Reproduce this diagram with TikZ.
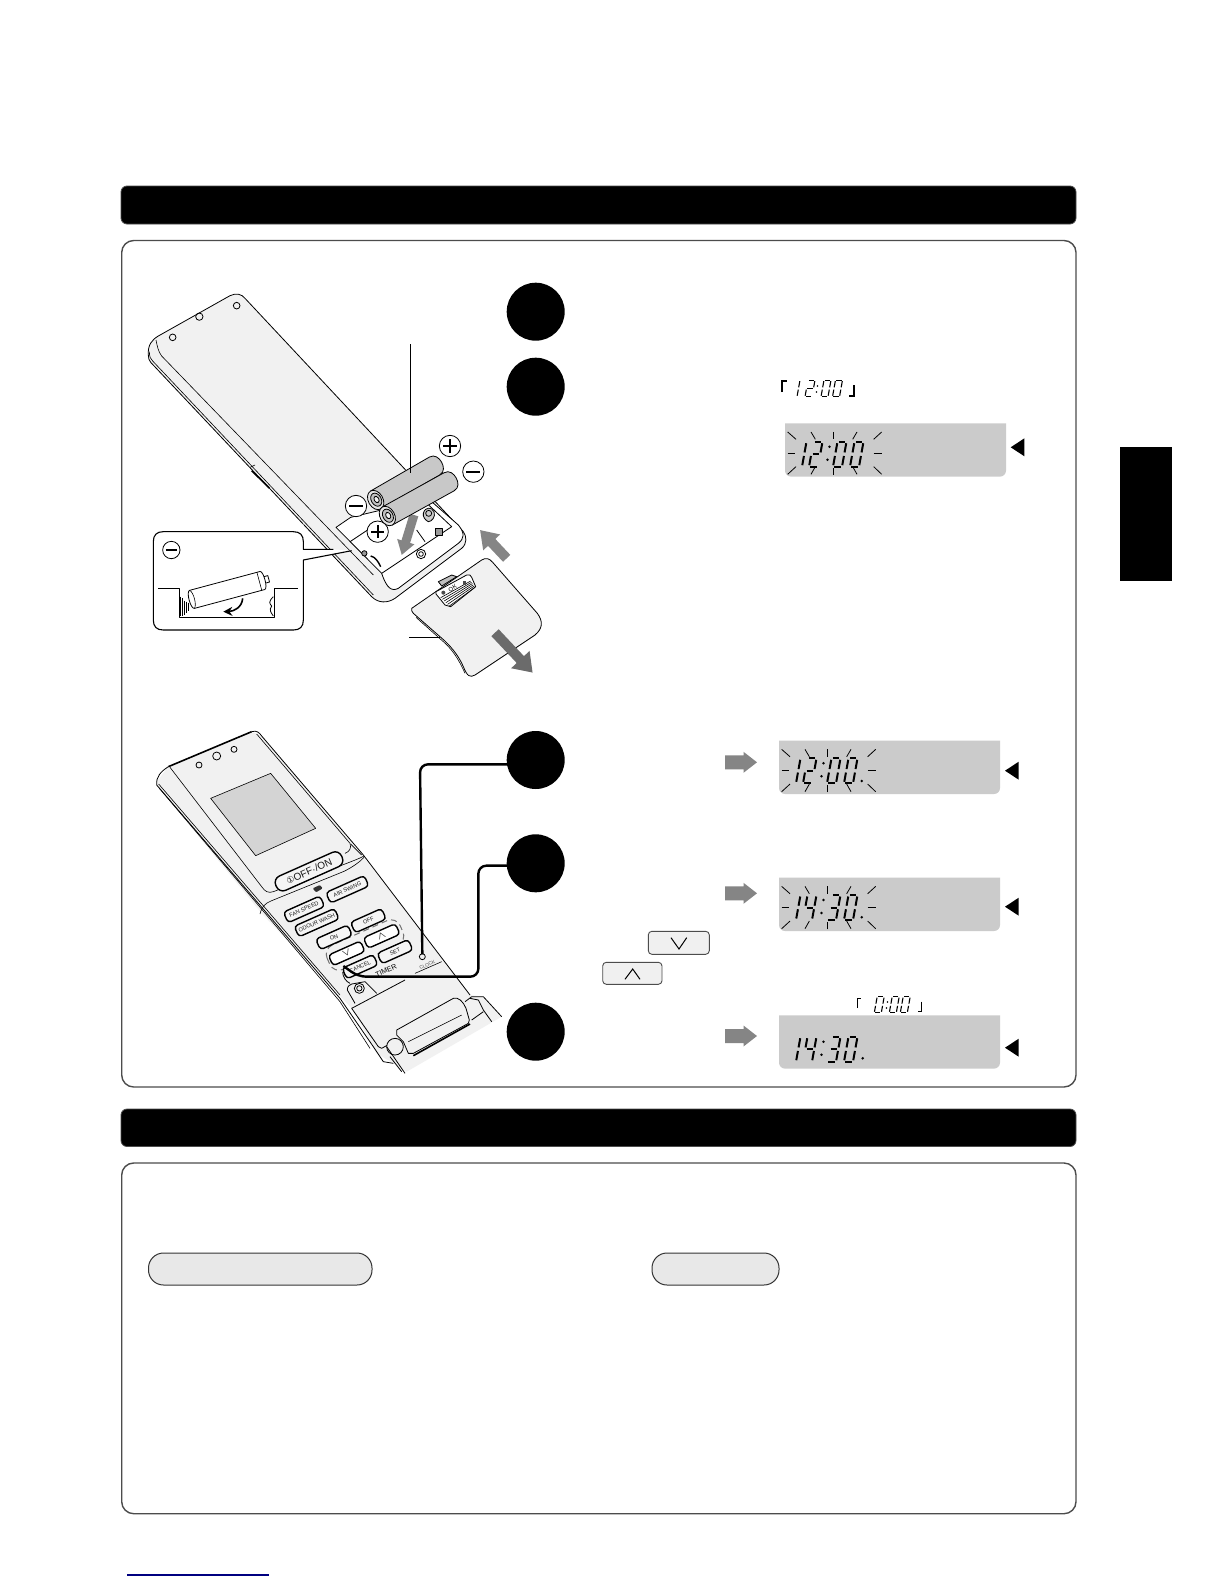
\documentclass[tikz,border=0pt]{standalone}
\usepackage{fontspec}
\setmainfont{Liberation Sans}
\newfontfamily\djv{DejaVu Sans}
\usetikzlibrary{arrows.meta,calc}
\definecolor{remfill}{HTML}{F1F1F1}
\definecolor{lcdgray}{HTML}{CBCBCB}
\definecolor{battgray}{HTML}{C8C8C8}
\definecolor{arrowgray}{HTML}{858585}
\tikzset{
  zoomA/.style={shift={(65pt,-140pt)},x=.16667pt,y=-.16667pt},
  zoomB/.style={shift={(70pt,-355pt)},x=.16667pt,y=-.16667pt},
  ln/.style={line width=.4pt,draw=black,line join=round},
  thn/.style={line width=.3pt,draw=black,line join=round},
  stepdot/.style={circle,fill=black,minimum size=29pt,inner sep=0pt},
  panelbox/.style={draw=black!70,line width=.7pt,rounded corners=6pt,fill=white},
  headbar/.style={draw=black!70,line width=.4pt,fill=black,rounded corners=3pt},
  pillbox/.style={draw=black!80,line width=.5pt,fill=black!9,rounded corners=7.5pt},
  seg/.style={line width=1pt},
  smseg/.style={line width=.55pt},
  ray/.style={line width=.4pt,black},
  keybtn/.style={draw=black,line width=.7pt,fill=white!96!black,rounded corners=1.8pt,inner sep=0pt,minimum height=5.8pt,font=\fontsize{2.8}{3}\selectfont,text=black!90},
  wire/.style={line width=1.2pt,black,rounded corners=4pt},
  btnsm/.style={draw=black!70,line width=.45pt,fill=black!6,rounded corners=1.8pt},
}
\newcommand\sA{\draw (.14,1)--(.86,1);}
\newcommand\sB{\draw (1,.94)--(1,.57);}
\newcommand\sC{\draw (1,.43)--(1,.06);}
\newcommand\sD{\draw (.14,0)--(.86,0);}
\newcommand\sE{\draw (0,.43)--(0,.06);}
\newcommand\sF{\draw (0,.94)--(0,.57);}
\newcommand\sG{\draw (.14,.5)--(.86,.5);}
\newcommand\dOne{\sB\sC}
\newcommand\dTwo{\sA\sB\sG\sE\sD}
\newcommand\dThree{\sA\sB\sG\sC\sD}
\newcommand\dFour{\sF\sG\sB\sC}
\newcommand\dZero{\sA\sB\sC\sD\sE\sF}
\newcommand\lcddig[6]{\begin{scope}[shift={(#1,#2)},x={(#3*.5pt,0pt)},y={(.09*#4*1pt,.5*#4*1pt)},#5]#6\end{scope}}
\newcommand\bigclock[6]{%
  \lcddig{#1+8}{#2}{9}{25}{seg}{#3}%
  \lcddig{#1+24}{#2}{9}{25}{seg}{#4}%
  \lcddig{#1+48}{#2}{9}{25}{seg}{#5}%
  \lcddig{#1+65}{#2}{9}{25}{seg}{#6}%
  \fill (#1+42.5,#2-7) circle (.7pt) (#1+44.5,#2-20) circle (.7pt);}
\newcommand\lcdpanel[2]{\fill[lcdgray] (#1,#2) -- ++(221,0) [rounded corners=3pt] -- ++(0,53.3) -- ++(-221,0) [sharp corners] -- cycle;}
\newcommand\lcdrays[2]{\begin{scope}[shift={(#1,#2)},x=.16667pt,y=-.16667pt]
  \foreach \a/\b/\c/\d in {8/26/33/48,78/26/91/48,146/26/146/48,216/26/203/48,290/26/266/48,8/90/31/90,266/90/290/90,8/153/33/130,78/153/91/130,146/155/146/133,216/153/203/130,290/153/266/130}
    {\draw[ray] (\a,\b)--(\c,\d);}
\end{scope}}
\newcommand\blacktip[2]{\fill (#1,#2) -- ++(13.7,-9) -- ++(0,18) -- cycle;}
\newcommand\graytip[2]{\fill[arrowgray] (#1,#2-7) -- ++(18.5,0) -- ++(0,-3.5) -- (#1+32,#2) -- (#1+18.5,#2+10.5) -- ++(0,-3.5) -- (#1,#2+7) -- cycle;}
\newcommand\pluscirc[3]{\draw[ln,fill=white] (#1,#2) circle (#3); \draw[line width=1.1pt] (#1-#3*.62,#2)--(#1+#3*.62,#2) (#1,#2-#3*.62)--(#1,#2+#3*.62);}
\newcommand\minuscirc[3]{\draw[ln,fill=white] (#1,#2) circle (#3); \draw[line width=1.1pt] (#1-#3*.65,#2)--(#1+#3*.65,#2);}
\newcommand\battcell[4]{\begin{scope}[shift={(#1,#2)},rotate=#3]
  \draw[ln,fill=battgray] (0,-31) -- (#4-24,-31) .. controls (#4-6,-31) and (#4,-14) .. (#4,0) .. controls (#4,14) and (#4-6,31) .. (#4-24,31) -- (0,31) -- cycle;
  \draw[ln,fill=black!10] (0,0) ellipse [x radius=22,y radius=31];
  \draw[ln,fill=black!25] (2,0) ellipse [x radius=15,y radius=21];
  \draw[ln,fill=black!5] (3,0) ellipse [x radius=7,y radius=10];
\end{scope}}
\begin{document}
\begin{tikzpicture}[x=.5pt,y=-.5pt]
\useasboundingbox (0,0) rectangle (1224,1584);
\fill[white] (0,0) rectangle (1224,1584);
\path[headbar] (121,186) rectangle (1076,224);
\path[panelbox] (121.7,240.5) rectangle (1076,1087);
\path[headbar] (121,1109) rectangle (1076,1146.5);
\path[panelbox] (121.7,1163) rectangle (1076,1513.7);
\fill (1120,447) rectangle (1172,581);
\path[pillbox] (148.5,1253) rectangle (372,1285);
\path[pillbox] (652,1253) rectangle (779,1285);
\draw[line width=.7pt,blue!50!black] (127,1575) -- (269,1575);

% ---------------- remote, rear view
\begin{scope}[zoomA]
\draw[ln,fill=remfill] (55,225) .. controls (53,195) and (65,180) .. (85,168) -- (300,47) .. controls (318,38) and (335,42) .. (345,55) -- (1000,755) .. controls (1010,770) and (1012,790) .. (995,805) -- (795,955) .. controls (772,970) and (745,970) .. (725,950) -- (62,247) .. controls (57,240) and (55,235) .. (55,225) -- cycle;
\draw[thn] (58,215) .. controls (58,230) and (62,238) .. (68,243) -- (730,945);
\draw[thn] (78,180) .. controls (82,200) and (85,215) .. (95,228) -- (730,885);
\draw[ln,line width=.8pt] (365,572) -- (418,624);
\draw[thn] (360,562) -- (375,555);
\draw[ln] (128,172) circle (10) (208,110) circle (11) (320,77) circle (10);
% compartment
\draw[ln,fill=white] (618,742) -- (662,712) -- (880,660) -- (905,665) -- (985,735) .. controls (1005,760) and (1003,775) .. (985,790) -- (805,925) .. controls (785,935) and (770,925) .. (755,880) -- cycle;
\draw[ln] (755,880) -- (965,740) -- (880,660);
\draw[ln] (660,785) -- (720,745);
\draw[ln] (873,822) circle (14);
\draw[ln] (873,822) circle (7);
\draw[ln,fill=black!20] (880,700) .. controls (885,680) and (905,680) .. (912,695) .. controls (918,710) and (905,725) .. (895,725) .. controls (885,720) and (878,710) .. (880,700) -- cycle;
\draw[ln] (896,700) circle (9);
\draw[ln,fill=black!40] (916,746) rectangle (936,766);
\draw[ln,fill=black!40] (703,820) circle (8);
\draw[ln,line width=.7pt] (722,828) .. controls (735,830) and (745,845) .. (752,860);
\draw[ln] (860,750) -- (885,785);
\draw[arrowgray,line width=4.5pt,-{Triangle[length=7pt,width=8.5pt]}] (852,705) -- (815,825);
% batteries
\draw[ln] (841,192) -- (841,520);
\battcell{737}{660}{30}{228}
\battcell{772}{708}{29}{236}
\draw[ln] (841,520) -- (841,578);
\pluscirc{960}{498}{32}
\minuscirc{1030}{575}{32}
\minuscirc{678}{678}{32}
\pluscirc{743}{755}{32}
% lid
\draw[ln,fill=remfill] (845,985) -- (1055,840) .. controls (1068,832) and (1078,835) .. (1088,847) -- (1222,1000) .. controls (1240,1025) and (1238,1045) .. (1215,1065) -- (1035,1185) .. controls (1020,1193) and (1012,1190) .. (1000,1160) .. controls (985,1125) and (960,1095) .. (930,1070) -- (850,1000) .. controls (845,995) and (844,990) .. (845,985) -- cycle;
\draw[thn] (858,1012) -- (932,1078) .. controls (965,1105) and (985,1135) .. (1005,1180);
\draw[ln] (838,1072) -- (930,1072);
\draw[ln,fill=black!25] (925,905) -- (965,885) -- (980,890) -- (935,918) -- cycle;
\draw[ln,fill=white] (918,935) -- (1010,885) .. controls (1018,882) and (1022,885) .. (1025,892) -- (1037,920) -- (962,980) -- (945,975) -- (918,942) -- cycle;
\foreach \t in {0,.2,.4,.6,.8,1}
  {\draw[thn] ($(932,953)!\t!(958,978)$) -- ($(1022,903)!\t!(1035,922)$);}
\node[rotate=29,font=\fontsize{3}{3}\selectfont] (lidok) at (968,925) {OK};
\fill[black!70] (940,938) circle (6);
\fill[black!70] (1000,903) rectangle (1008,914);
\draw[arrowgray,line width=5pt,-{Triangle[length=8.5pt,width=11pt]}] (1130,835) -- (1050,750);
\draw[black!58,line width=5pt,-{Triangle[length=9pt,width=12pt]}] (1095,1058) -- (1208,1178);
% inset
\fill[white] (100,755) -- (490,755) arc[start angle=90,end angle=0,radius=30] -- (520,808) -- (610,808) -- (665,812) -- (520,840) -- (520,1020) arc[start angle=0,end angle=-90,radius=30] -- (100,1050) arc[start angle=-90,end angle=-180,radius=30] -- (70,785) arc[start angle=180,end angle=90,radius=30] -- cycle;
\draw[ln,line width=.55pt] (610,808) -- (520,808) -- (520,785) .. controls (520,765) and (510,755) .. (490,755) -- (100,755) .. controls (80,755) and (70,765) .. (70,785) -- (70,1020) .. controls (70,1040) and (80,1050) .. (100,1050) -- (490,1050) .. controls (510,1050) and (520,1040) .. (520,1020) -- (520,840) -- (665,812);
\minuscirc{124}{810}{26}
\draw[ln] (85,925) -- (147,925) -- (147,1012) -- (432,1012) -- (432,925) -- (505,925);
\foreach \hx/\ya/\yb in {152/950/1007,158/955/1007,164/962/1005,170/965/998,176/968/992}
  {\draw[line width=.35pt] (\hx,\ya) -- (\hx,\yb);}
\draw[ln] (430,950) .. controls (415,965) and (418,970) .. (425,978) .. controls (415,990) and (425,1000) .. (430,1008);
\begin{scope}[shift={(190,957)},rotate=15]
  \draw[ln,fill=white] (222,-10) -- (234,-10) -- (234,10) -- (222,10);
  \draw[ln,fill=white] (-4,-28) -- (215,-28) .. controls (225,-25) and (225,25) .. (215,28) -- (-4,28) .. controls (-16,28) and (-16,-28) .. (-4,-28) -- cycle;
  \draw[thn] (-4,-28) .. controls (6,-20) and (6,20) .. (-4,28);
  \draw[thn] (205,-28) -- (205,28);
\end{scope}
\draw[line width=.8pt,-{Stealth[length=4.5pt,width=4.5pt]}] (338,955) .. controls (336,982) and (312,994) .. (280,995);
\end{scope}

% ---------------- remote, front view
\begin{scope}[zoomB]
\path[fill=remfill] (50,215) -- (85,170) -- (335,65) -- (365,78) -- (670,440) -- (990,855) -- (1030,860) -- (1085,920) -- (800,1085) -- (760,1060) -- (710,1030) -- (640,900) -- (365,610) -- (50,225) -- cycle;
\draw[ln] (50,225) .. controls (48,200) and (62,185) .. (85,170);
\draw[ln,line width=.8pt] (85,170) -- (335,65);
\draw[ln] (335,65) .. controls (350,60) and (358,68) .. (365,78) -- (670,435) -- (990,855);
\draw[ln] (50,225) -- (600,865) -- (700,1010) -- (730,1055) -- (760,1060);
\draw[thn] (56,222) -- (600,855);
\draw[thn] (58,235) -- (600,875) -- (690,1015);
\draw[thn] (90,172) -- (365,530) .. controls (375,545) and (385,550) .. (400,545) -- (620,460) .. controls (640,452) and (660,445) .. (672,438);
\draw[thn] (350,72) -- (630,400) .. controls (635,415) and (628,425) .. (615,430);
\draw[thn] (632,402) -- (665,435);
\draw[thn] (360,612) .. controls (365,590) and (375,580) .. (395,572) -- (612,484) .. controls (640,470) and (660,455) .. (672,442);
\draw[ln] (177,165) circle (9) (230,138) circle (12) (282,118) circle (9);
\draw[thn,fill=black!17] (212,265) -- (392,190) -- (527,355) -- (347,437) -- cycle;
\node[keybtn,rotate=24,minimum width=36pt,minimum height=7.8pt,rounded corners=3.5pt,font=\fontsize{5}{5}\selectfont] (keypower) at (507,484) {{\djv\fontsize{4.4}{5}\selectfont ①}OFF·/ON};
\fill[black!80,rounded corners=.5pt] (518,535) -- (540,525) -- (548,535) -- (528,547) -- cycle;
\node[keybtn,rotate=24,minimum width=20pt] (keyfan) at (492,598) {FAN SPEED};
\node[keybtn,rotate=24,minimum width=21pt] (keyair) at (622,538) {AIR SWING};
\node[keybtn,rotate=24,minimum width=22pt] (keyodour) at (530,638) {ODOUR WASH};
\draw[black!55,line width=.5pt,densely dashed,rounded corners=5pt,rotate around={24:(675,705)}] (555,665) rectangle (795,745);
\node[keybtn,rotate=24,minimum width=17pt] (keyoff) at (685,632) {OFF};
\node[keybtn,rotate=24,minimum width=17.5pt] (keyon) at (582,682) {ON};
\node[keybtn,rotate=24,minimum width=17.5pt,fill=white,font=\fontsize{4.5}{4}\selectfont] (keyup) at (725,678) {$\wedge$};
\node[keybtn,rotate=24,minimum width=17.5pt,fill=white,font=\fontsize{4.5}{4}\selectfont] (keydown) at (620,730) {$\vee$};
\node[keybtn,rotate=24,minimum width=17pt] (keyset) at (765,725) {SET};
\node[keybtn,rotate=24,minimum width=17pt] (keycancel) at (660,770) {CANCEL};
\draw[ln] (608,786) .. controls (608,800) and (618,815) .. (630,820);
\node[rotate=24,font=\fontsize{3.6}{4}\selectfont] (timerlabel) at (738,782) {TIMER};
\node[rotate=24,font=\fontsize{2.4}{3}\selectfont,text=black!70] (clocklabel) at (862,765) {CLOCK};
\draw[ln] (847,740) circle (9);
\draw[thn] (825,790) -- (905,755);
\draw[ln] (622,840) .. controls (622,828) and (628,825) .. (635,822) -- (675,815) -- (710,850);
\draw[ln] (622,840) -- (645,880);
\draw[ln] (658,835) circle (15) (658,835) circle (8);
\draw[ln] (635,895) -- (795,810);
\draw[ln] (635,895) -- (715,1010) -- (725,1015) -- (770,990);
\draw[ln] (975,875) -- (995,860) -- (1030,860) -- (1085,920);
\draw[ln] (990,865) -- (1015,870) -- (1030,900) -- (1055,935);
\draw[ln] (995,930) -- (1030,905);
\draw[ln,fill=remfill] (765,1010) circle (25);
\draw[ln,fill=remfill] (770,960) -- (940,865) .. controls (955,860) and (970,875) .. (978,895) -- (988,930) -- (985,940) -- (820,1030) -- (805,1030) -- (790,995) -- (770,975) -- cycle;
\draw[thn] (805,995) -- (965,915);
\draw[line width=.8pt] (820,1037) -- (990,942);
\draw[ln] (740,1010) -- (795,1090) (750,1040) -- (785,1085);
\coordinate (bendthree) at (840,163);
\coordinate (clockkey) at (847,733);
\coordinate (bendfour) at (1015,467);
\coordinate (bendfive) at (1015,800);
\coordinate (wirerun) at (655,800);
\coordinate (downkey) at (610,768);
\end{scope}

\node[stepdot] (stepone) at (535.7,311.7) {};
\node[stepdot] (steptwo) at (535.7,386.7) {};
\node[stepdot] (stepthree) at (535.7,760) {};
\node[stepdot] (stepfour) at (535.7,863.3) {};
\node[stepdot] (stepfive) at (535.7,1031.7) {};
\draw[wire] (stepthree.center |- bendthree) -- (bendthree) -- (clockkey);
\draw[wire] (stepfour.center |- bendfour) -- (bendfour) -- (bendfive) -- (wirerun) -- (downkey);

\lcdpanel{785}{423.3}
\lcdrays{785}{423.3}
\bigclock{785}{466.7}{\dOne}{\dTwo}{\dZero}{\dZero}
\blacktip{1010.7}{447.3}
\lcdpanel{779}{740.7}
\lcdrays{779}{740.7}
\bigclock{779}{783.3}{\dOne}{\dTwo}{\dZero}{\dZero}
\fill (861.7,781) circle (.7pt);
\blacktip{1005}{770.7}
\graytip{725}{762.3}
\lcdpanel{779}{877.7}
\lcdrays{779}{877.7}
\bigclock{779}{920}{\dOne}{\dFour}{\dThree}{\dZero}
\fill (861.7,917.3) circle (.7pt);
\blacktip{1005}{906.7}
\graytip{725}{893.3}
\lcdpanel{779}{1015.3}
\bigclock{779}{1061.7}{\dOne}{\dFour}{\dThree}{\dZero}
\fill (862.7,1058.3) circle (.7pt);
\blacktip{1005}{1047.7}
\graytip{725}{1036}

\draw[line width=.6pt] (782,392) -- (782,381) -- (787,381);
\draw[line width=.6pt] (854,385) -- (854,396) -- (849,396);
\lcddig{790}{396.7}{7}{16.5}{smseg}{\dOne}
\lcddig{805}{396.7}{7}{16.5}{smseg}{\dTwo}
\lcddig{821}{396.7}{7}{16.5}{smseg}{\dZero}
\lcddig{832.5}{396.7}{7}{16.5}{smseg}{\dZero}
\fill (816.5,392) circle (.45pt) (817.5,386) circle (.45pt);
\draw[line width=.6pt] (857.7,1008) -- (857.7,998.3) -- (861,998.3);
\draw[line width=.6pt] (921.7,1001.7) -- (921.7,1011.7) -- (917.7,1011.7);
\lcddig{874.3}{1012.7}{7}{16}{smseg}{\dZero}
\lcddig{889.3}{1012.7}{7}{16}{smseg}{\dZero}
\lcddig{900.3}{1012.7}{7}{16}{smseg}{\dZero}
\fill (886.5,1008) circle (.45pt) (887.5,1002) circle (.45pt);

\path[btnsm] (648.3,931.3) rectangle (709.3,954.3);
\draw[line width=.5pt] (671,937.7) -- (679,949) -- (686.7,937.7);
\path[btnsm] (602.7,962.3) rectangle (662,984.3);
\draw[line width=.5pt] (625,979.3) -- (632.7,969) -- (640,979.3);
\end{tikzpicture}
\end{document}
